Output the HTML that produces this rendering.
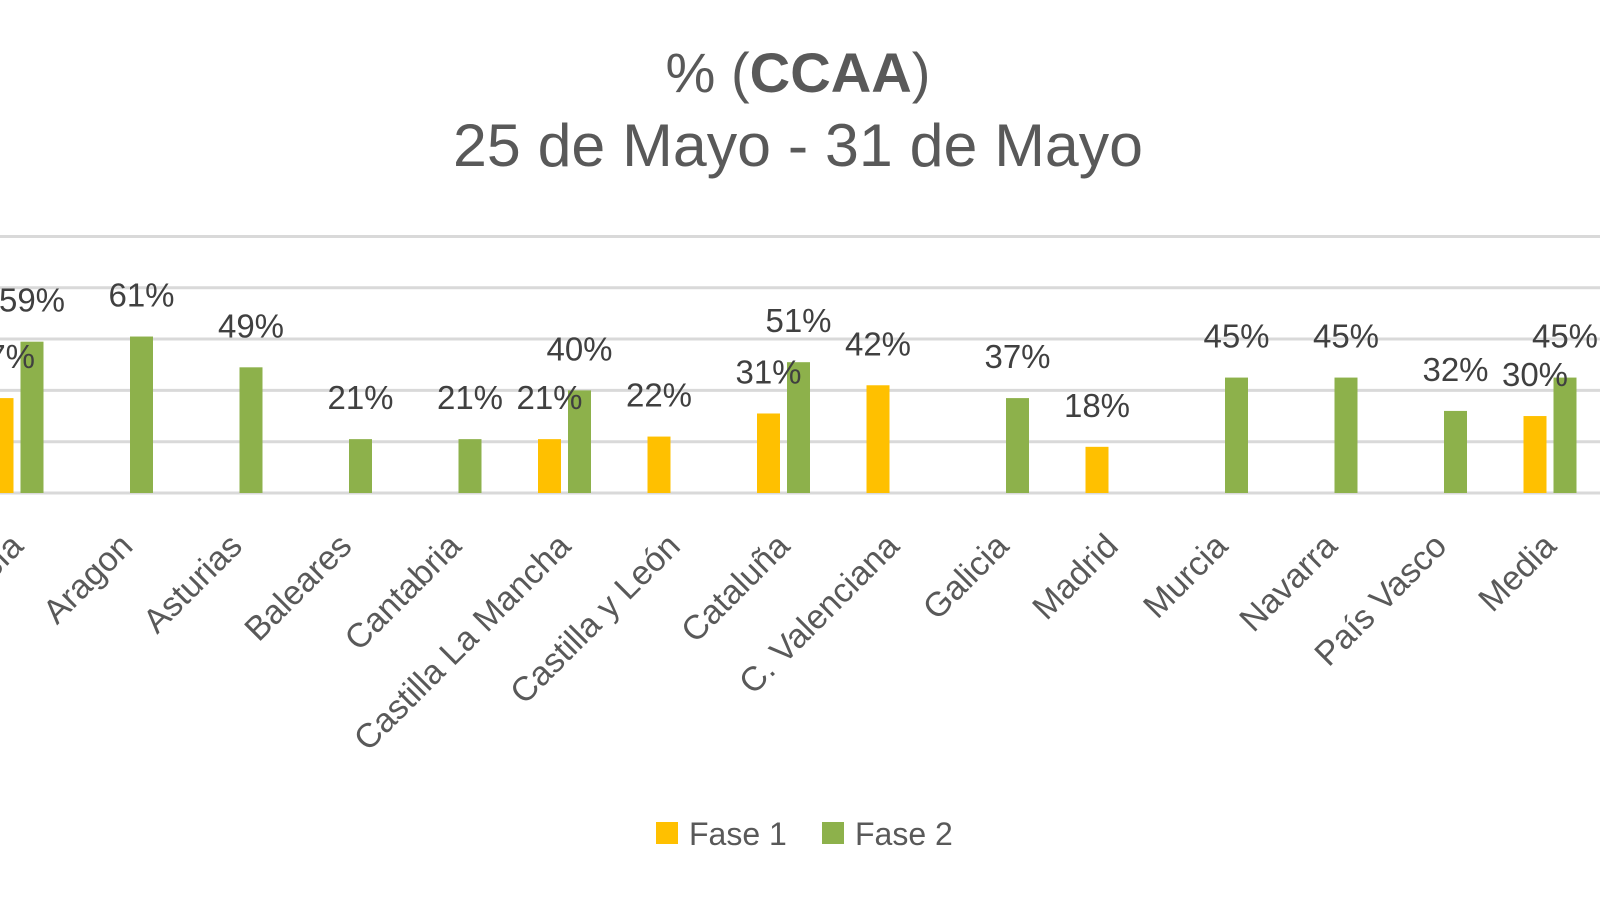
<!DOCTYPE html>
<html><head><meta charset="utf-8"><style>
html,body{margin:0;padding:0;background:#fff;width:1600px;height:900px;overflow:hidden}
svg{display:block;font-family:"Liberation Sans","DejaVu Sans",sans-serif}
</style></head><body>
<svg width="1600" height="900" viewBox="0 0 1600 900" xmlns="http://www.w3.org/2000/svg">
<rect width="1600" height="900" fill="#fff"/>
<text x="798" y="92" text-anchor="middle" font-size="56" fill="#595959" textLength="265" lengthAdjust="spacingAndGlyphs">% (<tspan font-weight="bold">CCAA</tspan>)</text>
<text x="798" y="166" text-anchor="middle" font-size="60" fill="#595959" textLength="690" lengthAdjust="spacingAndGlyphs">25 de Mayo - 31 de Mayo</text>
<g stroke="#d9d9d9" stroke-width="3">
<line x1="0" x2="1600" y1="236.5" y2="236.5"/>
<line x1="0" x2="1600" y1="287.8" y2="287.8"/>
<line x1="0" x2="1600" y1="339" y2="339"/>
<line x1="0" x2="1600" y1="390.4" y2="390.4"/>
<line x1="0" x2="1600" y1="441.7" y2="441.7"/>
<line x1="0" x2="1600" y1="493" y2="493"/>
</g>
<g id="bars"></g>
<g id="labels" font-size="33" fill="#404040" text-anchor="middle"></g>
<g id="cats" font-size="34" fill="#595959" text-anchor="end"></g>
<rect x="656" y="822" width="22" height="22" fill="#FFC000"/>
<text x="689" y="845" font-size="32" fill="#595959">Fase 1</text>
<rect x="822" y="822" width="22" height="22" fill="#8DB14B"/>
<text x="855" y="845" font-size="32" fill="#595959">Fase 2</text>
<script>
var d=[["Andalucía",37,59],["Aragon",null,61],["Asturias",null,49],["Baleares",null,21],["Cantabria",null,21],["Castilla La Mancha",21,40],["Castilla y León",22,null],["Cataluña",31,51],["C. Valenciana",42,null],["Galicia",null,37],["Madrid",18,null],["Murcia",null,45],["Navarra",null,45],["País Vasco",null,32],["Media",30,45]];
var ns="http://www.w3.org/2000/svg",B=document.getElementById("bars"),L=document.getElementById("labels"),C=document.getElementById("cats");
function el(p,t,a,txt){var e=document.createElementNS(ns,t);for(var k in a)e.setAttribute(k,a[k]);if(txt)e.textContent=txt;p.appendChild(e);}
d.forEach(function(r,i){var c=17+i*109.5;
[[r[1],-26.5,"#FFC000"],[r[2],3.5,"#8DB14B"]].forEach(function(s){if(s[0]==null)return;var h=s[0]*2.565,top=493-h;
el(B,"rect",{x:c+s[1],y:top,width:23,height:h,fill:s[2]});
el(L,"text",{x:c+s[1]+11.5,y:top-30},s[0]+"%");});
el(C,"text",{x:0,y:0,transform:"translate("+(c+8)+",548) rotate(-45)"},r[0]);});
</script>
</svg>
</body></html>
